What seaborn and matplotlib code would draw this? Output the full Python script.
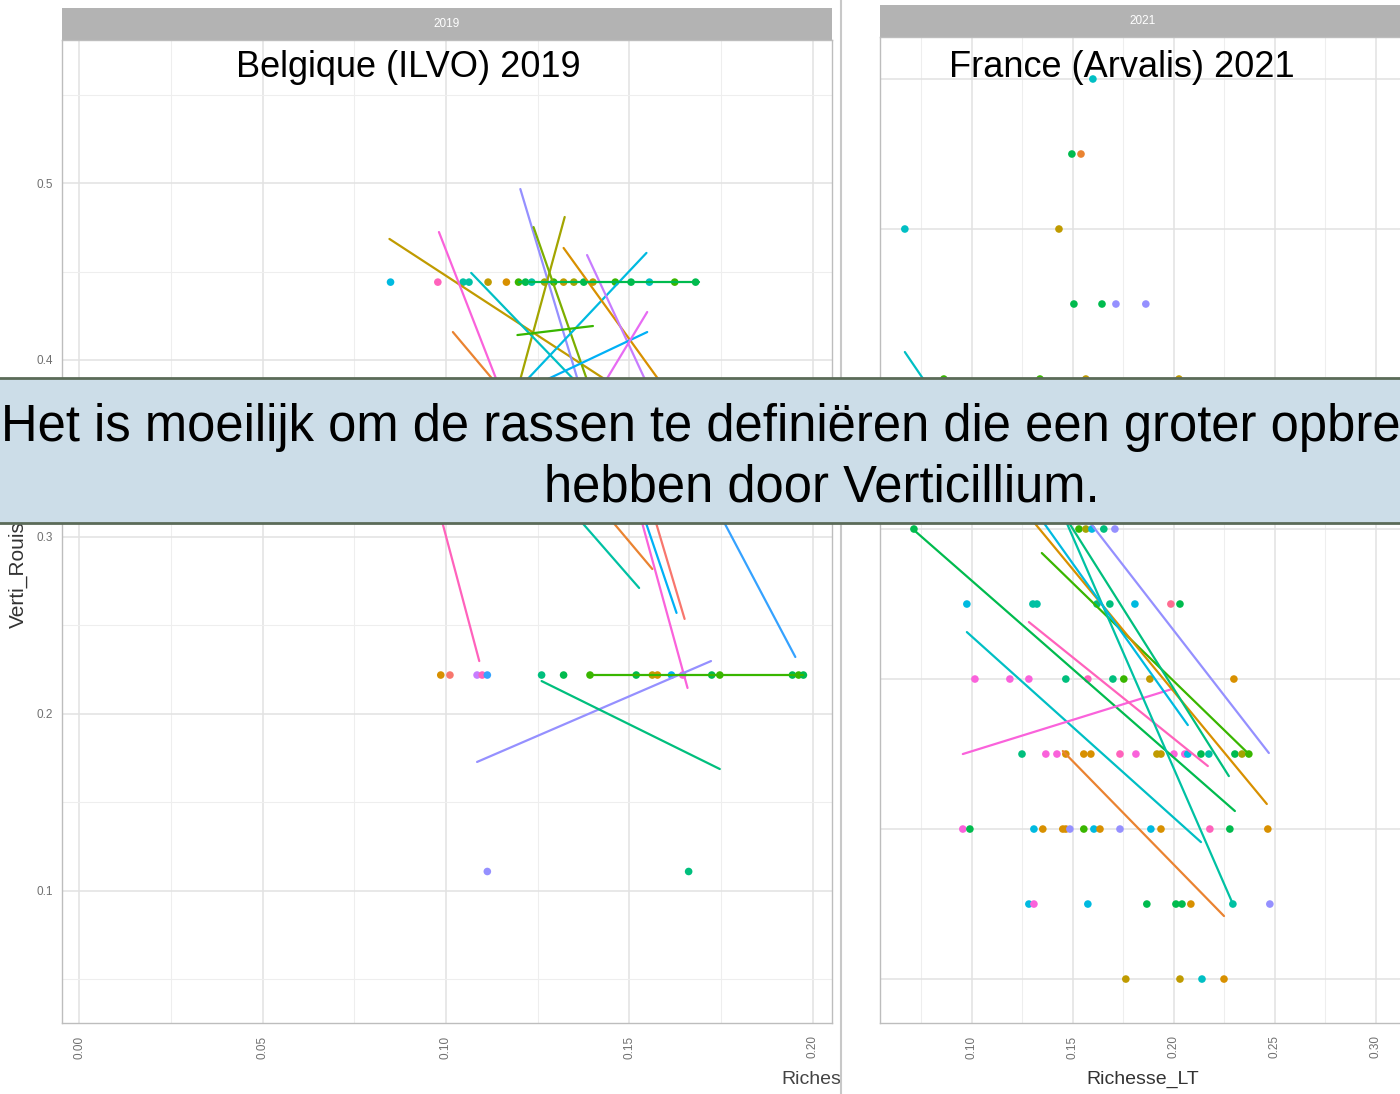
import pandas as pd
import seaborn as sns
import matplotlib.pyplot as plt
from matplotlib.patches import Rectangle
from matplotlib.lines import Line2D
from matplotlib.transforms import Bbox, TransformedBbox
from matplotlib.ticker import MultipleLocator, FormatStrFormatter

W, H = 1400, 1094

# ggplot-like hue palette, one colour per variety
varieties = [f"V{i:02d}" for i in range(1, 21)]
hue_hex = ["#F8766D", "#EA8331", "#D89000", "#C09B00", "#A3A500", "#7CAE00", "#39B600",
           "#00BB4E", "#00BF7D", "#00C1A3", "#00BFC4", "#00BAE0", "#00B0F6", "#35A2FF",
           "#9590FF", "#C77CFF", "#E76BF3", "#FA62DB", "#FF62BC", "#FF6C91"]
pal = dict(zip(varieties, hue_hex))

# ---- Belgique (ILVO) 2019 : points ----
be_pt_x = [0.0849, 0.0978, 0.1047, 0.1063, 0.1115, 0.1165, 0.1198, 0.1217, 0.1234, 0.1269,
           0.1294, 0.1321, 0.1349, 0.1376, 0.1401, 0.1462, 0.1505, 0.1555, 0.1624, 0.1681,
           0.0986, 0.1011, 0.1085, 0.1099, 0.1113, 0.1261, 0.1321, 0.1393, 0.1519, 0.1563,
           0.1577, 0.1615, 0.1646, 0.1725, 0.1747, 0.1945, 0.1962, 0.1975,
           0.1113, 0.1662]
be_pt_y = [0.444] * 20 + [0.222] * 18 + [0.111] * 2
be_pt_var = ["V12", "V19", "V10", "V10", "V04", "V03", "V07", "V08", "V10", "V05",
             "V07", "V04", "V05", "V08", "V04", "V07", "V08", "V11", "V07", "V08",
             "V03", "V01", "V16", "V19", "V14", "V09", "V08", "V07", "V08", "V04",
             "V03", "V13", "V18", "V08", "V07", "V08", "V07", "V08",
             "V15", "V09"]

# ---- Belgique (ILVO) 2019 : regression lines (start / end) ----
be_ln_var = ["V04", "V18", "V15", "V05", "V06", "V11", "V12", "V07", "V02", "V03", "V16",
             "V13", "V17", "V19", "V10", "V01", "V18", "V13", "V14", "V15", "V09", "V08", "V07"]
be_ln_x0 = [0.0846, 0.0981, 0.1203, 0.1195, 0.1239, 0.1069, 0.1195, 0.1195, 0.1019, 0.1321, 0.1385,
            0.1157, 0.1404, 0.0923, 0.1198, 0.1514, 0.1473, 0.1478, 0.1640, 0.1085, 0.1261, 0.1198, 0.1393]
be_ln_y0 = [0.4684, 0.4723, 0.4966, 0.3831, 0.4751, 0.4492, 0.3831, 0.4141, 0.4158, 0.4633, 0.4593,
            0.3774, 0.3774, 0.3605, 0.3492, 0.3492, 0.3548, 0.3492, 0.3548, 0.1729, 0.2186, 0.444, 0.222]
be_ln_x1 = [0.1541, 0.1170, 0.1376, 0.1324, 0.1404, 0.1376, 0.1547, 0.1401, 0.1563, 0.1679, 0.1569,
            0.1549, 0.1549, 0.1091, 0.1527, 0.1651, 0.1659, 0.1629, 0.1953, 0.1723, 0.1747, 0.1690, 0.1975]
be_ln_y1 = [0.3746, 0.3718, 0.3774, 0.4808, 0.3774, 0.3831, 0.4605, 0.4192, 0.2819, 0.3605, 0.3774,
            0.4158, 0.4271, 0.2299, 0.2712, 0.2537, 0.2147, 0.2571, 0.2322, 0.2299, 0.1689, 0.444, 0.222]

# ---- France (Arvalis) 2021 : points ----
fr_pt_x = [0.1599,
           0.1495, 0.1540,
           0.0668, 0.1431,
           0.1505, 0.1644, 0.1713, 0.1861,
           0.0861, 0.1337, 0.1564, 0.2025,
           0.0713, 0.1530, 0.1564, 0.1594, 0.1653, 0.1708,
           0.0975, 0.1302, 0.1322, 0.1619, 0.1683, 0.1807, 0.1985, 0.2030,
           0.1015, 0.1188, 0.1282, 0.1465, 0.1574, 0.1698, 0.1752, 0.1881, 0.2297,
           0.1248, 0.1366, 0.1421, 0.1465, 0.1554, 0.1589, 0.1733, 0.1812, 0.1916, 0.1936,
           0.2000, 0.2054, 0.2069, 0.2134, 0.2173, 0.2302, 0.2337, 0.2371,
           0.0955, 0.0990, 0.1307, 0.1351, 0.1450, 0.1465, 0.1485, 0.1554, 0.1604, 0.1634,
           0.1733, 0.1886, 0.1936, 0.2178, 0.2277, 0.2465,
           0.1282, 0.1307, 0.1574, 0.1866, 0.2010, 0.2040, 0.2084, 0.2292, 0.2475,
           0.1762, 0.2030, 0.2139, 0.2248]
fr_pt_y = ([0.65] + [0.60] * 2 + [0.55] * 2 + [0.50] * 4 + [0.45] * 4 + [0.35] * 6
           + [0.30] * 8 + [0.25] * 9 + [0.20] * 18 + [0.15] * 16 + [0.10] * 9 + [0.05] * 4)
fr_pt_var = ["V11",
             "V08", "V02",
             "V11", "V04",
             "V08", "V08", "V15", "V15",
             "V07", "V07", "V04", "V04",
             "V08", "V07", "V05", "V12", "V09", "V15",
             "V12", "V10", "V10", "V09", "V09", "V12", "V20", "V08",
             "V18", "V18", "V18", "V09", "V19", "V09", "V07", "V04", "V03",
             "V09", "V18", "V18", "V03", "V03", "V03", "V19", "V18", "V04", "V04",
             "V18", "V18", "V12", "V08", "V10", "V08", "V05", "V07",
             "V18", "V08", "V12", "V03", "V03", "V03", "V15", "V07", "V12", "V03",
             "V15", "V12", "V03", "V19", "V08", "V03",
             "V12", "V18", "V12", "V08", "V08", "V08", "V03", "V10", "V15",
             "V04", "V04", "V11", "V03"]

# ---- France (Arvalis) 2021 : regression lines ----
fr_ln_var = ["V11", "V08", "V11", "V18", "V19", "V02", "V07", "V15", "V03", "V10", "V09", "V12"]
fr_ln_x0 = [0.0668, 0.0713, 0.0975, 0.0955, 0.1282, 0.1450, 0.1346, 0.1500, 0.1218, 0.1421, 0.1411, 0.1277]
fr_ln_y0 = [0.468, 0.3493, 0.2813, 0.2000, 0.2880, 0.2020, 0.3340, 0.369, 0.369, 0.369, 0.369, 0.369]
fr_ln_x1 = [0.0931, 0.2302, 0.2134, 0.1990, 0.2168, 0.2248, 0.2371, 0.2470, 0.2460, 0.2292, 0.2272, 0.2069]
fr_ln_y1 = [0.416, 0.1620, 0.1413, 0.2433, 0.1920, 0.0920, 0.2000, 0.2007, 0.1667, 0.1000, 0.1853, 0.2193]


def line_frame(var, x0, y0, x1, y1):
    rows = []
    for i, (v, a, b, c, d) in enumerate(zip(var, x0, y0, x1, y1)):
        rows.append({"line": i, "variety": v, "x": a, "y": b})
        rows.append({"line": i, "variety": v, "x": c, "y": d})
    return pd.DataFrame(rows)


def facet(ax, pts, lines, strip_label, strip_h):
    sns.scatterplot(data=pts, x="x", y="y", hue="variety", palette=pal, s=30,
                    linewidth=0, legend=False, ax=ax, zorder=3)
    sns.lineplot(data=lines, x="x", y="y", hue="variety", units="line",
                 estimator=None, sort=False, palette=pal, lw=1.6, legend=False,
                 ax=ax, zorder=4)
    ax.set_xlabel("")
    ax.set_ylabel("")
    ax.set_axisbelow(True)
    ax.grid(which="major", color="#E2E2E2", lw=1.1)
    ax.grid(which="minor", color="#EEEEEE", lw=0.8)
    for s in ax.spines.values():
        s.set_color("#BDBDBD")
        s.set_linewidth(1.0)
    ax.tick_params(axis="x", labelrotation=90, labelsize=8.5, labelcolor="#707070",
                   length=3, color="#BDBDBD", pad=6)
    ax.tick_params(axis="y", labelsize=8.5, labelcolor="#707070", length=3, color="#BDBDBD")
    ax.add_patch(Rectangle((0, 1), 1, strip_h, transform=ax.transAxes, clip_on=False,
                           fc="#B3B3B3", ec="none"))
    ax.text(0.5, 1 + strip_h / 2, strip_label, transform=ax.transAxes, ha="center",
            va="center", color="white", fontsize=8.5)


sns.set_theme(style="white")
plt.rcParams["font.family"] = ["Liberation Sans", "DejaVu Sans"]

fig = plt.figure(figsize=(W / 100, H / 100), dpi=100)
fig.patch.set_facecolor("white")

be_pts = pd.DataFrame({"x": be_pt_x, "y": be_pt_y, "variety": be_pt_var})
be_lines = line_frame(be_ln_var, be_ln_x0, be_ln_y0, be_ln_x1, be_ln_y1)
fr_pts = pd.DataFrame({"x": fr_pt_x, "y": fr_pt_y, "variety": fr_pt_var})
fr_lines = line_frame(fr_ln_var, fr_ln_x0, fr_ln_y0, fr_ln_x1, fr_ln_y1)

# left facet (2019)
ax1 = fig.add_axes([62 / W, 1 - 1023 / H, 770 / W, 983 / H])
facet(ax1, be_pts, be_lines, "2019", 32 / 983)
ax1.set_xlim(-0.0047, 0.2053)
ax1.set_ylim(0.0254, 0.5808)
ax1.xaxis.set_major_locator(MultipleLocator(0.05))
ax1.xaxis.set_minor_locator(MultipleLocator(0.025))
ax1.yaxis.set_major_locator(MultipleLocator(0.1))
ax1.yaxis.set_minor_locator(MultipleLocator(0.05))
ax1.xaxis.set_major_formatter(FormatStrFormatter("%.2f"))
ax1.yaxis.set_major_formatter(FormatStrFormatter("%.1f"))
ax1.tick_params(which="minor", length=0)

# right facet (2021), slightly cropped at the right edge
ax2 = fig.add_axes([880 / W, 1 - 1023 / H, 526 / W, 986 / H])
facet(ax2, fr_pts, fr_lines, "2021", 32 / 986)
ax2.set_xlim(0.0545, 0.3149)
ax2.set_ylim(0.0207, 0.678)
ax2.xaxis.set_major_locator(MultipleLocator(0.05))
ax2.xaxis.set_minor_locator(MultipleLocator(0.025))
ax2.yaxis.set_major_locator(MultipleLocator(0.1, offset=0.05))
ax2.xaxis.set_major_formatter(FormatStrFormatter("%.2f"))
ax2.tick_params(which="minor", length=0)
ax2.tick_params(axis="y", labelleft=False, length=0)

# axis titles
fig.text(18 / W, 1 - 540 / H, "Verti_Rouissement", rotation=90, ha="center", va="center",
         fontsize=15, color="#333333", zorder=1)
cut = fig.text(781 / W, 1 - 1079 / H, "Richesse_LT", ha="left", va="center", fontsize=14,
               color="#444444", zorder=1)
cut.set_clip_box(TransformedBbox(Bbox([[0, 0], [840 / W, 1]]), fig.transFigure))
cut.set_clip_on(True)
fig.text(1143 / W, 1 - 1079 / H, "Richesse_LT", ha="center", va="center", fontsize=14,
         color="#333333", zorder=1)

# gap between the two pasted screenshots
fig.lines.append(Line2D([841 / W, 841 / W], [0, 1], transform=fig.transFigure,
                        color="#C8C8C8", lw=1.5, zorder=2))

# slide titles on each plot
fig.text(408 / W, 1 - 77 / H, "Belgique (ILVO) 2019", ha="center", va="baseline",
         fontsize=26, color="black", zorder=4)
fig.text(1122 / W, 1 - 77 / H, "France (Arvalis) 2021", ha="center", va="baseline",
         fontsize=26, color="black", zorder=4)

# banner
fig.patches.append(Rectangle((-0.01, 1 - 523 / H), 1.02, 145 / H, transform=fig.transFigure,
                             fc="#CCDDE8", ec="#5B6B58", lw=2, zorder=5))
fig.text(822 / W, 1 - 441 / H, "Het is moeilijk om de rassen te definiëren die een groter opbrengstverlies",
         ha="center", va="baseline", fontsize=36.5, color="black", zorder=6)
fig.text(822 / W, 1 - 501 / H, "hebben door Verticillium.", ha="center", va="baseline",
         fontsize=36.5, color="black", zorder=6)

fig.savefig("out.png", dpi=100)
